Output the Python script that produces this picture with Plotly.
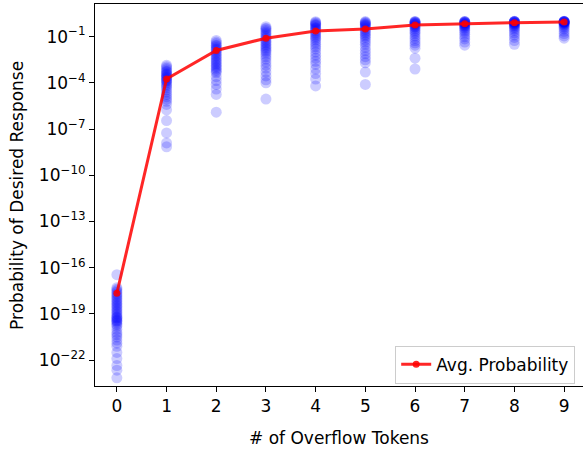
import plotly.graph_objects as go

# ---- data (log10 of probability per prompt) ----
overflow_tokens = [0, 1, 2, 3, 4, 5, 6, 7, 8, 9]

log10_p_0 = [-16.45, -17.3, -17.4, -17.5, -17.6, -17.7, -17.8, -17.9, -18.0, -18.1, -18.2,
             -18.3, -18.4, -18.5, -18.6, -18.7, -18.8, -18.9, -19.0, -19.1, -19.2, -19.25,
             -19.3, -19.4, -19.45, -19.5, -19.6, -19.7, -19.8, -20.0, -20.2, -20.35, -20.5,
             -20.7, -20.9, -21.1, -21.5, -21.9, -22.35, -22.65, -23.15]
log10_p_1 = [-2.85, -2.95, -3.05, -3.15, -3.25, -3.3, -3.4, -3.45, -3.5, -3.6, -3.65, -3.7,
             -3.8, -3.85, -3.9, -4.0, -4.1, -4.2, -4.3, -4.45, -4.6, -4.75, -4.9, -5.05,
             -5.2, -5.4, -5.75, -6.45, -7.25, -7.9, -8.15]
log10_p_2 = [-1.25, -1.35, -1.45, -1.55, -1.6, -1.7, -1.8, -1.85, -1.95, -2.05, -2.15, -2.25,
             -2.35, -2.45, -2.55, -2.65, -2.75, -2.85, -2.95, -3.05, -3.15, -3.25, -3.35,
             -3.6, -3.85, -4.1, -4.4, -4.75, -5.9]
log10_p_3 = [-0.35, -0.45, -0.5, -0.6, -0.7, -0.8, -0.9, -1.0, -1.1, -1.2, -1.3, -1.4, -1.5,
             -1.6, -1.7, -1.8, -1.9, -2.0, -2.15, -2.3, -2.45, -2.65, -2.85, -3.05, -3.3,
             -3.55, -3.8, -4.0, -5.05]
log10_p_4 = [-0.03, -0.08, -0.13, -0.2, -0.25, -0.3, -0.4, -0.45, -0.5, -0.6, -0.7, -0.8,
             -0.9, -1.0, -1.1, -1.2, -1.35, -1.5, -1.65, -1.8, -2.0, -2.2, -2.4, -2.6, -2.8,
             -3.1, -3.4, -3.75, -4.2]
log10_p_5 = [-0.02, -0.06, -0.1, -0.15, -0.2, -0.25, -0.3, -0.35, -0.45, -0.55, -0.65, -0.75,
             -0.85, -0.95, -1.05, -1.2, -1.35, -1.5, -1.7, -1.9, -2.1, -2.3, -2.5, -2.7,
             -3.3, -4.1]
log10_p_6 = [-0.01, -0.03, -0.05, -0.08, -0.1, -0.13, -0.16, -0.2, -0.25, -0.3, -0.35, -0.4,
             -0.5, -0.6, -0.7, -0.8, -0.95, -1.1, -1.25, -1.4, -1.55, -1.75, -2.4, -3.1]
log10_p_7 = [-0.01, -0.02, -0.04, -0.06, -0.08, -0.1, -0.12, -0.15, -0.18, -0.22, -0.26,
             -0.3, -0.35, -0.42, -0.5, -0.6, -0.7, -0.85, -1.0, -1.15, -1.35, -1.55]
log10_p_8 = [-0.005, -0.01, -0.02, -0.03, -0.04, -0.06, -0.08, -0.1, -0.12, -0.15, -0.18,
             -0.22, -0.27, -0.33, -0.4, -0.5, -0.6, -0.75, -0.9, -1.05, -1.25, -1.5]
log10_p_9 = [-0.005, -0.01, -0.015, -0.02, -0.03, -0.04, -0.05, -0.06, -0.08, -0.1, -0.12,
             -0.15, -0.2, -0.25, -0.32, -0.4, -0.5, -0.65, -0.8, -0.95, -1.1]

log10_avg_prob = [-17.66, -3.75, -1.90, -1.10, -0.63, -0.50, -0.24, -0.16, -0.09, -0.05]

y_tick_vals = [1e-1, 1e-4, 1e-7, 1e-10, 1e-13, 1e-16, 1e-19, 1e-22]
y_tick_text = ["10<sup>−1</sup>", "10<sup>−4</sup>", "10<sup>−7</sup>", "10<sup>−10</sup>",
               "10<sup>−13</sup>", "10<sup>−16</sup>", "10<sup>−19</sup>", "10<sup>−22</sup>"]

all_cols = [log10_p_0, log10_p_1, log10_p_2, log10_p_3, log10_p_4, log10_p_5, log10_p_6,
            log10_p_7, log10_p_8, log10_p_9]

xs, ys = [], []
for t, col in zip(overflow_tokens, all_cols):
    xs += [t] * len(col)
    ys += [10 ** v for v in col]
avg_prob = [10 ** v for v in log10_avg_prob]

FONT = "DejaVu Sans"
FS = 17

fig = go.Figure()
fig.add_trace(go.Scatter(
    x=xs, y=ys, mode="markers", showlegend=False,
    marker=dict(color="blue", size=11, opacity=0.2, line=dict(width=0)),
))
fig.add_trace(go.Scatter(
    x=overflow_tokens, y=avg_prob, mode="lines+markers", name="Avg. Probability",
    line=dict(color="rgba(255,0,0,0.85)", width=3),
    marker=dict(color="rgba(255,0,0,0.85)", size=7),
))

axis_common = dict(
    showgrid=False, zeroline=False, showline=True, linecolor="black", linewidth=1,
    ticks="outside", ticklen=5, tickwidth=1, tickcolor="black",
    tickfont=dict(family=FONT, size=FS, color="black"),
)

# right spine lies just outside the picture in the reference
fig.update_xaxes(range=[-0.44, 9.38], tickvals=overflow_tokens, mirror=True,
                 ticktext=[str(t) for t in overflow_tokens], **axis_common)
fig.update_yaxes(type="log", range=[-23.68, 1.12], tickvals=y_tick_vals, mirror=False,
                 ticktext=y_tick_text, **axis_common)

fig.update_layout(
    width=583, height=451,
    margin=dict(l=95, r=0, t=4, b=65),
    plot_bgcolor="white", paper_bgcolor="white",
    font=dict(family=FONT, size=FS, color="black"),
    legend=dict(x=0.984, y=0.006, xanchor="right", yanchor="bottom",
                bordercolor="#cccccc", borderwidth=1, bgcolor="white",
                tracegroupgap=0, itemwidth=30,
                font=dict(family=FONT, size=FS)),
    annotations=[
        dict(text="# of Overflow Tokens", xref="paper", yref="paper", x=0.5, y=-0.136,
             xanchor="center", yanchor="middle", showarrow=False,
             font=dict(family=FONT, size=FS)),
        dict(text="Probability of Desired Response", xref="paper", yref="paper",
             x=-0.160, y=0.5, xanchor="center", yanchor="middle", textangle=-90,
             showarrow=False, font=dict(family=FONT, size=FS)),
    ],
)

fig.write_html("out.html", config={"displayModeBar": False},
               post_script="document.body.style.margin='0';")
